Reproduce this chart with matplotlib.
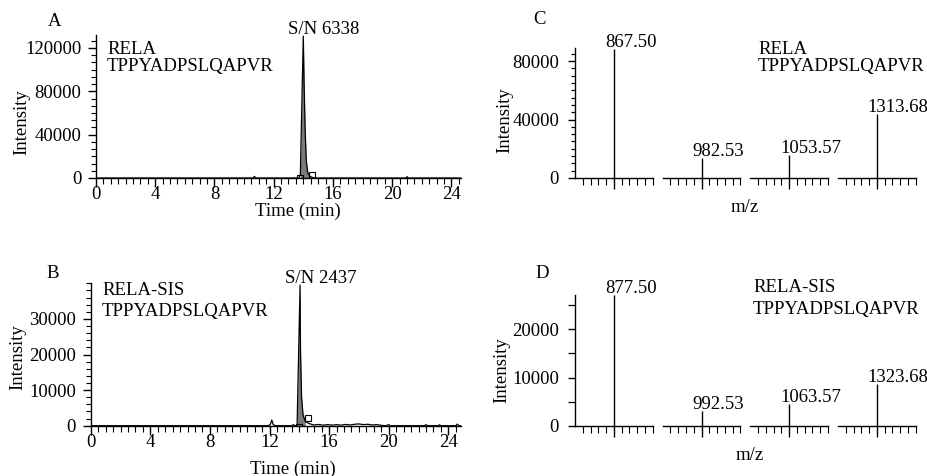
import numpy as np
import matplotlib
matplotlib.use("Agg")
import matplotlib.pyplot as plt
from matplotlib.ticker import FixedLocator, MultipleLocator, NullFormatter

plt.rcParams['font.family'] = ['Liberation Serif', 'DejaVu Serif']
plt.rcParams['font.size'] = 13.5

# ---------------- data ----------------
# Chromatogram A (RELA)
timeA = [0, 10.6, 10.7, 10.8, 13.7, 13.8, 14.0, 14.05, 14.12, 14.2, 14.3, 14.45, 14.6, 14.8,
         20.9, 21.0, 21.1, 24.65]
intA = [0, 0, 1500, 0, 0, 3000, 131000, 90000, 46000, 16000, 5000, 1500, 500, 0,
        0, 1200, 0, 0]
fillA = (13.75, 14.6)
boxA_t = [13.8, 14.6]
boxA_i = [0, 2500]
snA = "S/N 6338"

# Chromatogram B (RELA-SIS)
timeB = [0, 11.9, 12.05, 12.15, 12.25, 12.4, 13.5, 13.6, 13.7, 13.85, 14.05, 14.08, 14.15, 14.25,
         14.4, 14.6, 14.8, 15.0, 15.3, 15.6, 15.9, 16.2, 16.5, 16.8, 17.1, 17.4, 17.7, 18.0,
         18.3, 18.6, 18.9, 19.2, 19.5, 19.8, 20.0, 20.1, 22.4, 22.5, 22.6, 23.3, 23.4, 23.5,
         24.5, 24.6, 24.7, 24.85]
intB = [0, 0, 300, 1600, 300, 0, 0, 300, 0, 0, 39500, 21000, 8000, 3000,
        1200, 700, 400, 200, 350, 150, 300, 150, 300, 150, 350, 200, 400, 500,
        300, 400, 200, 300, 100, 0, 300, 0, 0, 300, 0, 0, 250, 0,
        0, 450, 0, 0]
fillB = (13.85, 14.45)
boxB_t = [13.95, 14.6]
boxB_i = [-300, 2200]
snB = "S/N 2437"

# Spectra C and D
mzC = [867.50, 982.53, 1053.57, 1313.68]
intC = [88500, 13500, 15500, 43800]
mzD = [877.50, 992.53, 1063.57, 1323.68]
intD = [27100, 3100, 4500, 8700]

chromXticks = [0, 4, 8, 12, 16, 20, 24]
yticksA = [0, 40000, 80000, 120000]
yticksB = [0, 10000, 20000, 30000]
yticksC = [0, 40000, 80000]
yticksD = [0, 10000, 20000]

W, H = 927, 476
fig = plt.figure(figsize=(W / 100, H / 100), dpi=100)


def add_ax(x0, y0, x1, y1):
    ax = fig.add_axes([x0 / W, 1 - y1 / H, (x1 - x0) / W, (y1 - y0) / H])
    ax.patch.set_visible(False)
    return ax


def ftext(x, y, s, **kw):
    return fig.text(x / W, 1 - y / H, s, **kw)


def style(ax, left=True):
    ax.spines['top'].set_visible(False)
    ax.spines['right'].set_visible(False)
    ax.spines['left'].set_visible(left)
    for sp in ax.spines.values():
        sp.set_linewidth(1.0)


def chrom(ax, t, y, fillrange, bt, bi, sn, yticks, ymax, xmax, yminor):
    t = np.asarray(t, float)
    y = np.asarray(y, float)
    style(ax)
    ax.plot(t, y, color='black', lw=0.9, zorder=3)
    m = (t >= fillrange[0]) & (t <= fillrange[1])
    ax.fill_between(t[m], 0, y[m], color='#7a7a7a', lw=0, zorder=2)
    ax.plot(bt, bi, ls='none', marker='s', ms=4.5, mfc='none', mec='black', mew=0.8, zorder=4)
    ax.set_xlim(0, xmax)
    ax.set_ylim(0, ymax)
    ax.xaxis.set_major_locator(FixedLocator(chromXticks))
    ax.xaxis.set_minor_locator(MultipleLocator(0.5))
    ax.yaxis.set_major_locator(FixedLocator(yticks))
    ax.yaxis.set_minor_locator(MultipleLocator(yminor))
    ax.set_yticklabels([str(v) for v in yticks])
    ax.set_xticklabels([str(v) for v in chromXticks])
    ax.tick_params(axis='x', which='major', direction='out', length=6.5, width=1, pad=-0.5)
    ax.tick_params(axis='x', which='minor', direction='out', length=4, width=0.8)
    ax.tick_params(axis='y', which='major', direction='out', length=6, width=1, pad=4.5)
    ax.tick_params(axis='y', which='minor', direction='out', length=3.5, width=0.8)
    i = int(np.argmax(y))
    ax.annotate(sn, (t[i], y[i]), xytext=(-11, 1.5), textcoords='offset points',
                ha='left', va='baseline', annotation_clip=False)


# ---- Panel A ----
axA = add_ax(96, 35, 461, 178)
chrom(axA, timeA, intA, fillA, boxA_t, boxA_i, snA, yticksA, 132000, 24.65, 40000 / 6)
# ---- Panel B ----
axB = add_ax(90.7, 283.3, 461, 425.7)
chrom(axB, timeB, intB, fillB, boxB_t, boxB_i, snB, yticksB, 40000, 24.85, 2000)


def spectrum(mz, inten, ytop, ybot, ymax, yticks, yminor, minor_len):
    starts = [575, 662.7, 750.3, 838]
    width = 77.7
    axes = []
    for k, (m, v) in enumerate(zip(mz, inten)):
        ax = add_ax(starts[k], ytop, starts[k] + width, ybot)
        style(ax, left=(k == 0))
        ax.vlines([m], 0, [v], color='black', lw=1.0)
        ax.set_xlim(m - 5, m + 5)
        ax.set_ylim(0, ymax)
        ax.xaxis.set_major_locator(FixedLocator([m]))
        ax.xaxis.set_minor_locator(FixedLocator([m + d for d in range(-4, 6) if d != 0]))
        ax.xaxis.set_major_formatter(NullFormatter())
        ax.tick_params(axis='x', which='major', direction='out', length=8, width=1)
        ax.tick_params(axis='x', which='minor', direction='out', length=5, width=0.8)
        if k == 0:
            ax.yaxis.set_major_locator(FixedLocator(yticks))
            ax.yaxis.set_minor_locator(MultipleLocator(yminor))
            ax.set_yticklabels([str(t) for t in yticks])
            ax.tick_params(axis='y', which='major', direction='out', length=5, width=1, pad=6.5)
            ax.tick_params(axis='y', which='minor', direction='out', length=minor_len, width=0.9)
        else:
            ax.set_yticks([])
        ax.annotate(f"{m:.2f}", (m, v), xytext=(-6.5, 1.5), textcoords='offset points',
                    ha='left', va='baseline', annotation_clip=False, zorder=10)
        axes.append(ax)
    return axes


axesC = spectrum(mzC, intC, 48, 178, 88900, yticksC, 5000, 3)
axesD = spectrum(mzD, intD, 295, 426, 27100, yticksD, 5000, 5)

# ---- labels ----
for x, y, s in [(55, 22, 'A'), (53, 273, 'B'), (540, 20, 'C'), (542, 273, 'D')]:
    ftext(x, y, s, ha='center', va='center')

ftext(107, 53.5, 'RELA', ha='left', va='baseline')
ftext(107, 71, 'TPPYADPSLQAPVR', ha='left', va='baseline')
ftext(102, 295, 'RELA-SIS', ha='left', va='baseline')
ftext(102, 316, 'TPPYADPSLQAPVR', ha='left', va='baseline')
ftext(758, 53.5, 'RELA', ha='left', va='baseline')
ftext(758, 71, 'TPPYADPSLQAPVR', ha='left', va='baseline')
ftext(753, 291.5, 'RELA-SIS', ha='left', va='baseline')
ftext(753, 314, 'TPPYADPSLQAPVR', ha='left', va='baseline')

for x, y in [(22, 122), (18, 357), (505, 120), (502, 370)]:
    ftext(x, y, 'Intensity', rotation=90, ha='center', va='center')

ftext(298, 211, 'Time (min)', ha='center', va='center')
ftext(293, 469, 'Time (min)', ha='center', va='center')
ftext(745, 207, 'm/z', ha='center', va='center')
ftext(750, 455, 'm/z', ha='center', va='center')

fig.savefig('out.png', dpi=100)
